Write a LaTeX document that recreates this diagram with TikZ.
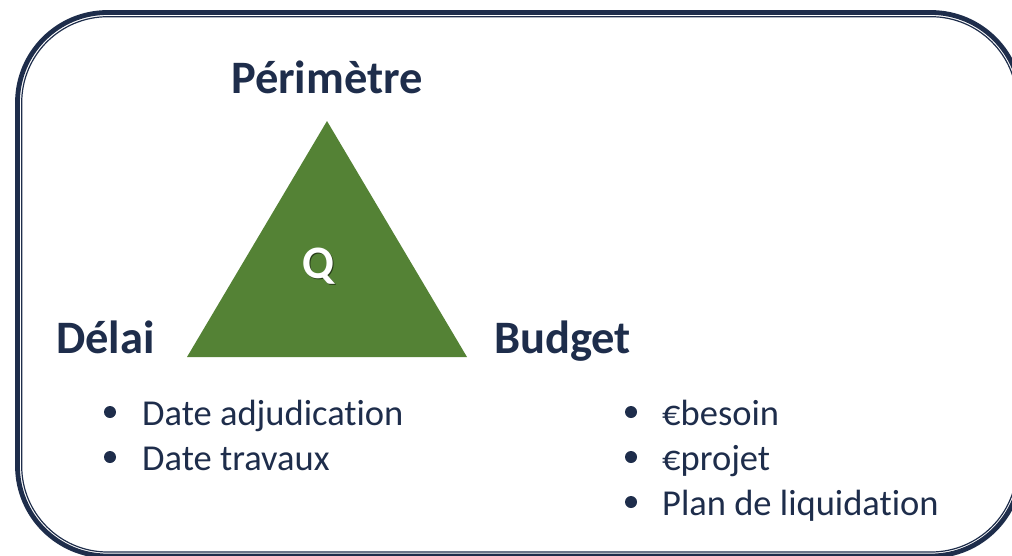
\documentclass[tikz,border=0pt]{standalone}
\usepackage{fontspec}
\setmainfont{Carlito}[Ligatures=NoCommon]
\usepackage{tikz}
\usetikzlibrary{positioning}
\definecolor{navy}{RGB}{30,45,75}
\definecolor{leaf}{RGB}{84,130,53}
\newcommand{\shadowed}[1]{\makebox[0pt][l]{\hspace{1.5pt}\raisebox{-1.5pt}{\textcolor{leaf!45!black}{#1}}}#1}

\begin{document}
\begin{tikzpicture}[
			x = 1pt, y = -1pt,
			every node/.style = {inner sep=0pt, text=navy},
			head/.style = {font=\bfseries\fontsize{46.5}{46.5}\selectfont},
			item/.style = {font=\fontsize{36.5}{36.5}\selectfont, anchor=base west},
			dot/.style = {circle, fill=navy, minimum size=12pt}
			]
			\useasboundingbox (0,0) rectangle (1012,555);

			% frame
			\begin{scope}
				\clip (0,0) rectangle (1012,555);
				\draw[navy, line width=4.8pt, rounded corners=90pt] (17.5,12.5) rectangle (1021,556);
				\draw[navy, line width=1.2pt, rounded corners=86pt] (21.7,16.7) rectangle (1017,552);
			\end{scope}

			% triangle
			\coordinate (apex) at (327,121);
			\coordinate (bl) at (187,357);
			\coordinate (br) at (467,357);
			\fill[leaf] (apex) -- (bl) -- (br) -- cycle;
			\node[head, anchor=base, text=white] (q) at (318,278) {\shadowed{Q}};

			\node[head, anchor=base] (perimetre) at (327,93) {Périmètre};
			\node[head, anchor=base west] (delai) at (56,353) {Délai};
			\node[head, anchor=base west] (budget) at (494,353) {Budget};

			% lists
			\node[item] (d1) at (142,425) {Date adjudication};
			\node[item] (d2) at (142,470) {Date travaux};
			\node[item] (b1) at (662,425) {€besoin};
			\node[item] (b2) at (662,470) {€projet};
			\node[item] (b3) at (662,515) {Plan de liquidation};
			\node[dot] at (110,412) {};
			\node[dot] at (110,457) {};
			\node[dot] at (631,412) {};
			\node[dot] at (631,457) {};
			\node[dot] at (631,502) {};

		\end{tikzpicture}
\end{document}
